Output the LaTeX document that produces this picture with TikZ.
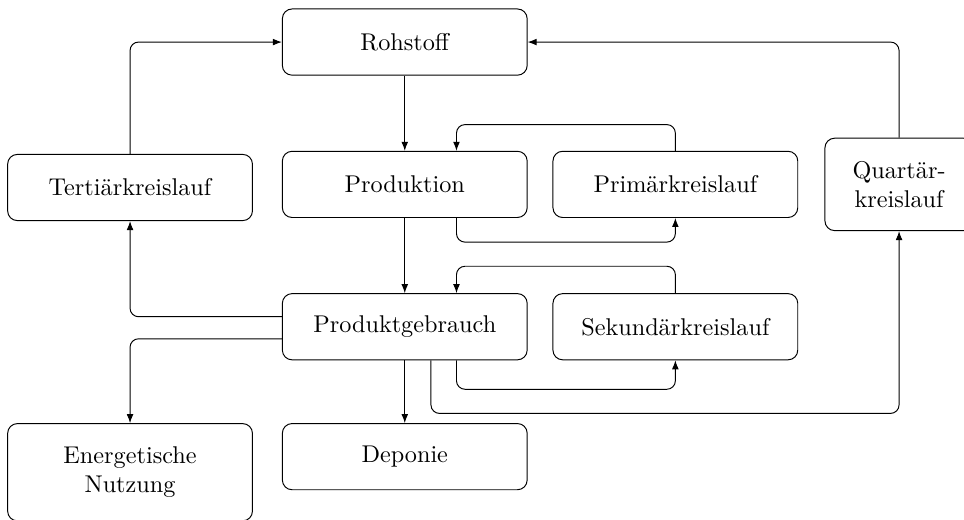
\documentclass[tikz,border=0pt]{standalone}
\usepackage{tikz}
\usetikzlibrary{positioning,arrows.meta}

\begin{document}
\begin{tikzpicture}[
  box/.style={draw, rounded corners=4pt, minimum width=35.5mm,
    minimum height=9.6mm, align=center},
  flow/.style={-{Latex[length=3.7pt,width=2.8pt]}, rounded corners=3.5pt},
  ]
  \useasboundingbox (-58.7mm,6.1mm) rectangle (81.1mm,-69.2mm);

  % The main chain.
  \node[box] (roh) {Rohstoff};
  \node[box, below=10.9mm of roh] (prod) {Produktion};
  \node[box, below=10.9mm of prod] (gebr) {Produktgebrauch};
  \node[box, below=9.1mm of gebr] (dep) {Deponie};

  % The loops beside it.
  \node[box, right=3.6mm of prod] (prim) {Primärkreislauf};
  \node[box, right=3.6mm of gebr] (sek) {Sekundärkreislauf};
  \node[box, left=4.2mm of prod, yshift=-0.45mm] (tert) {Tertiärkreislauf};
  \node[box, right=3.8mm of prim, minimum width=21.5mm, minimum height=13.4mm]
    (quart) {Quartär-\\kreislauf};
  \node[box, below=29.3mm of tert, minimum height=14.1mm]
    (energ) {Energetische\\Nutzung};

  \draw[flow] (roh) -- (prod);
  \draw[flow] (prod) -- (gebr);
  \draw[flow] (gebr) -- (dep);

  % Primary and secondary loops.
  \draw[flow] (prim.north) |- ([xshift=7.5mm,yshift=3.8mm]prod.north)
    -- ([xshift=7.5mm]prod.north);
  \draw[flow] ([xshift=7.5mm]prod.south) |- ([yshift=-3.5mm]prim.south)
    -- (prim.south);
  \draw[flow] (sek.north) |- ([xshift=7.5mm,yshift=3.9mm]gebr.north)
    -- ([xshift=7.5mm]gebr.north);
  \draw[flow] ([xshift=7.5mm]gebr.south) |- ([yshift=-4.2mm]sek.south)
    -- (sek.south);

  % Tertiary and quaternary loops.
  \coordinate (qlow) at ([yshift=-7.7mm]gebr.south);
  \draw[flow] ([xshift=3.8mm]gebr.south) |- (qlow -| quart.south)
    -- (quart.south);
  \draw[flow] (quart.north) |- (roh.east);
  \draw[flow] ([yshift=1.45mm]gebr.west) -| (tert.south);
  \draw[flow] (tert.north) |- (roh.west);
  \draw[flow] ([yshift=-1.75mm]gebr.west) -| (energ.north);
\end{tikzpicture}
\end{document}
